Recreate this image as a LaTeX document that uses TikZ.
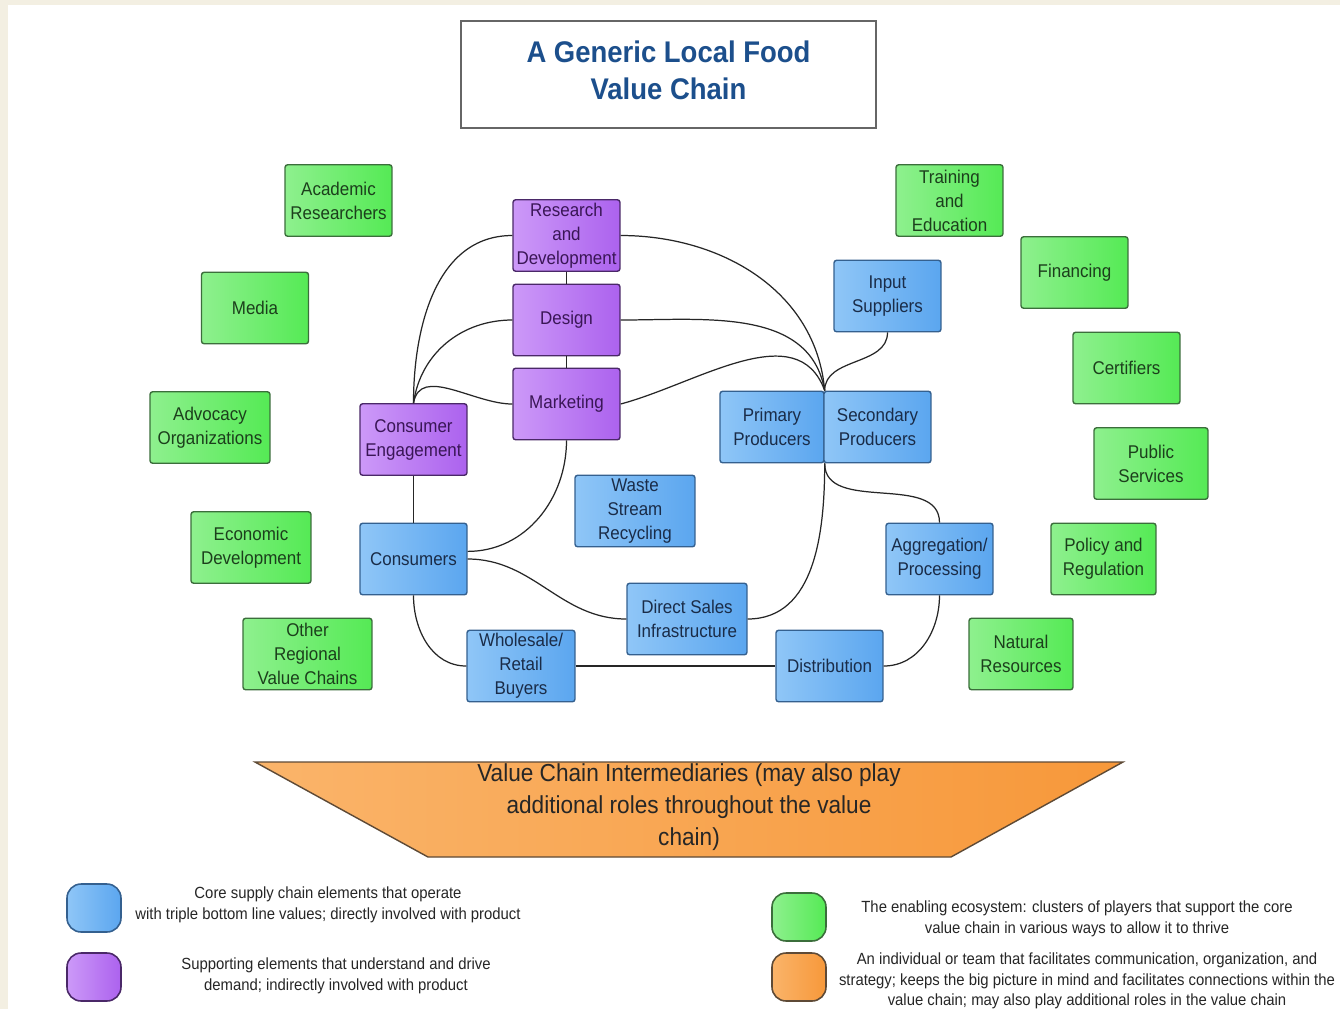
\documentclass[tikz,border=0pt]{standalone}
\usepackage{fontspec}
\setmainfont{Liberation Sans}[FakeStretch=0.92]
\usetikzlibrary{positioning}
\definecolor{pageC}{HTML}{F3EFE2}
\definecolor{ecoL}{HTML}{8EF08E}
\definecolor{ecoR}{HTML}{55EA55}
\definecolor{ecoD}{HTML}{3B6E3B}
\definecolor{ecoT}{HTML}{1C3F1C}
\definecolor{supL}{HTML}{CC99F8}
\definecolor{supR}{HTML}{AC62EE}
\definecolor{supD}{HTML}{4A2868}
\definecolor{supT}{HTML}{3A1656}
\definecolor{coreL}{HTML}{8FC6F7}
\definecolor{coreR}{HTML}{5BA6EF}
\definecolor{coreD}{HTML}{34608F}
\definecolor{coreT}{HTML}{1A2C48}
\definecolor{medL}{HTML}{FAB46A}
\definecolor{medR}{HTML}{F7983A}
\definecolor{medD}{HTML}{5E4A36}
\definecolor{titleC}{HTML}{1C4F8C}

\begin{document}
\begin{tikzpicture}[
    x=0.02cm, y=-0.02cm,
    box/.style={rectangle, rounded corners=1.5pt, line width=0.8pt, minimum width=2.14cm, minimum height=1.43cm, inner sep=1pt, align=center, font=\fontsize{10.5}{13.7}\selectfont},
    ecobox/.style={box, left color=ecoL, right color=ecoR, draw=ecoD, text=ecoT},
    supbox/.style={box, left color=supL, right color=supR, draw=supD, text=supT},
    corebox/.style={box, left color=coreL, right color=coreR, draw=coreD, text=coreT},
    link/.style={line width=0.7pt, black!85},
    key/.style={rectangle, rounded corners=8pt, minimum width=1.08cm, minimum height=0.96cm, line width=0.9pt},
    keytext/.style={align=center, font=\fontsize{9.2}{11.7}\selectfont, text=black!85}
  ]
    \useasboundingbox (0,0) rectangle (1340,1009);
    \fill[pageC] (0,0) rectangle (1340,1009);
    \fill[white] (8,5) rectangle (1340,1009);

    % title
    \node[draw=black!60, line width=0.9pt, fill=white, minimum width=8.3cm, minimum height=2.14cm, align=center,
      font=\fontsize{17}{21}\selectfont\bfseries, text=titleC] (title) at (668.5,74.5) {A Generic Local Food\\Value Chain\\[-16pt]};

    % enabling ecosystem
    \node[ecobox] (acad) at (338.5,200.5) {Academic\\Researchers};
    \node[ecobox] (media) at (255,308) {Media};
    \node[ecobox, minimum width=2.4cm] (advoc) at (210,427.5) {Advocacy\\Organizations};
    \node[ecobox, minimum width=2.4cm] (econ) at (251,547.5) {Economic\\Development};
    \node[ecobox, minimum width=2.58cm] (other) at (307.5,654) {Other\\Regional\\Value Chains};
    \node[ecobox] (train) at (949.5,200.5) {Training\\and\\Education};
    \node[ecobox] (fin) at (1074.5,272.5) {Financing};
    \node[ecobox] (cert) at (1126.5,368) {Certifiers};
    \node[ecobox, minimum width=2.28cm] (pub) at (1151,463.5) {Public\\Services};
    \node[ecobox, minimum width=2.1cm] (policy) at (1103.5,559) {Policy and\\Regulation};
    \node[ecobox, minimum width=2.08cm] (nat) at (1021,654) {Natural\\Resources};

    % supporting elements
    \node[supbox] (rd) at (566.5,235.5) {Research\\and\\Development};
    \node[supbox] (design) at (566.5,320) {Design};
    \node[supbox] (mkt) at (566.5,404) {Marketing};
    \node[supbox] (ce) at (413.5,439.5) {Consumer\\Engagement};

    % core supply chain
    \node[corebox] (input) at (887.5,296) {Input\\Suppliers};
    \node[corebox, minimum width=2.08cm] (prim) at (772,427) {Primary\\Producers};
    \node[corebox] (sec) at (877.5,427) {Secondary\\Producers};
    \node[corebox, minimum width=2.4cm] (waste) at (635,511) {Waste\\Stream\\Recycling};
    \node[corebox] (cons) at (413.5,559) {Consumers};
    \node[corebox, minimum width=2.4cm] (direct) at (687,619) {Direct Sales\\Infrastructure};
    \node[corebox] (aggr) at (939.5,559) {Aggregation/\\Processing};
    \node[corebox, minimum width=2.16cm] (whole) at (521,666) {Wholesale/\\Retail\\Buyers};
    \node[corebox] (dist) at (829.5,666) {Distribution};

    % links
    \draw[link] (rd) -- (design);
    \draw[link] (design) -- (mkt);
    \draw[link] (ce) -- (cons);
    \draw[link] (ce.north) to[out=90, in=180] (rd.west);
    \draw[link] (ce.north) to[out=82, in=180] (design.west);
    \draw[link] (ce.north) to[out=80, in=180] (mkt.west);
    \draw[link] (mkt.south) to[out=-90, in=0] (cons.8);
    \draw[link] (cons.east) to[out=0, in=180] (direct.west);
    \draw[link] (cons.south) to[out=-90, in=180] (whole.west);
    \draw[link] (whole) -- (dist);
    \draw[link] (dist.east) to[out=0, in=-90] (aggr.south);
    \draw[link] (direct.east) to[out=0, in=-90] (prim.south east);
    \draw[link] (prim.south east) to[out=-90, in=90] (aggr.north);
    \draw[link] (rd.east) to[out=0, in=95] (prim.north east);
    \draw[link] (design.east) to[out=0, in=100] (prim.north east);
    \draw[link] (mkt.east) to[out=15, in=110] (prim.north east);
    \draw[link] (input.south) to[out=-90, in=90] (prim.north east);

    % intermediaries
    \draw[left color=medL, right color=medR, draw=medD, line width=0.8pt] (255,762) -- (1123,762) -- (951,857) -- (428,857) -- cycle;
    \node[align=center, font=\fontsize{14}{18}\selectfont, text=black!85] (inter) at (689,807)
      {Value Chain Intermediaries (may also play\\additional roles throughout the value\\chain)};

    % key
    \node[key, left color=coreL, right color=coreR, draw=coreD] (kcore) at (94,908) {};
    \node[keytext] (tcore) at (328,905) {Core supply chain elements that operate\\with triple bottom line values; directly involved with product};
    \node[key, left color=supL, right color=supR, draw=supD] (ksup) at (94,977) {};
    \node[keytext] (tsup) at (336,976) {Supporting elements that understand and drive\\demand; indirectly involved with product};
    \node[key, left color=ecoL, right color=ecoR, draw=ecoD] (keco) at (799,917) {};
    \node[keytext] (teco) at (1077,919) {The enabling ecosystem: clusters of players that support the core\\value chain in various ways to allow it to thrive};
    \node[key, left color=medL, right color=medR, draw=medD] (kmed) at (799,977) {};
    \node[keytext] (tmed) at (1087,981) {An individual or team that facilitates communication, organization, and\\strategy; keeps the big picture in mind and facilitates connections within the\\value chain; may also play additional roles in the value chain};
  \end{tikzpicture}
\end{document}
